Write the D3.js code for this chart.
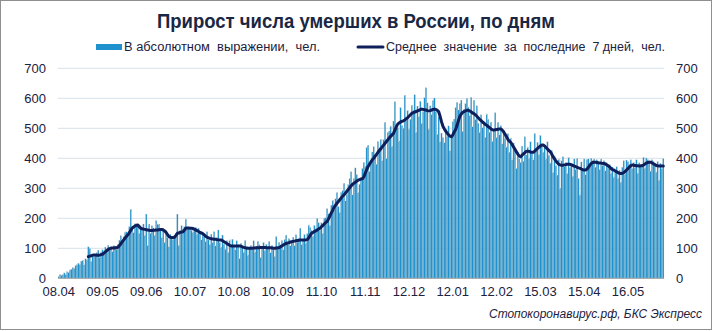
<!DOCTYPE html>
<html>
<head>
<meta charset="utf-8">
<script src="https://cdn.jsdelivr.net/npm/d3@7/dist/d3.min.js"></script>
<style>
  html, body { margin: 0; padding: 0; background: #ffffff; }
  svg { display: block; }
</style>
</head>
<body>
<svg id="chart" width="713" height="331"></svg>
<script>
// Daily increase in COVID-19 deaths in Russia, from 08.04.2020, one value per day
const daily = [
  6, 13, 10, 12, 18, 13, 22, 19, 28, 30, 36, 33, 42, 45, 50, 46, 57, 61, 45, 65, 62,
  105, 100, 56, 78, 73, 76, 86, 94, 70, 88, 95, 82, 104, 93, 110, 97, 105, 89, 110, 106,
  96, 113, 127, 142, 128, 140, 153, 155, 140, 172, 231, 165, 152, 182, 174, 181, 150, 175, 165, 181,
  143,
  214, 111, 181, 150, 175, 168, 144, 192, 180, 181, 160, 135, 165, 120, 158, 135, 105, 147, 136, 130,
  141, 150, 214, 110, 160, 175, 152, 172, 198, 171, 170, 166, 160, 154, 165, 170, 148, 167, 155, 128,
  150, 140, 124, 155, 128, 112, 147, 120, 155, 108, 137, 161, 120, 104, 144, 114, 97, 126, 86, 128,
  109,
  130, 110, 95, 125, 113, 66, 117, 105, 88, 126, 101, 78, 104, 110, 96, 125, 88, 107, 124, 112,
  70, 106, 119, 92, 113, 100, 123, 85, 110, 96, 73, 139, 99, 120, 112, 126, 95, 130, 144, 115,
  132, 108, 127, 137, 109, 145, 120, 133, 167, 112, 130, 146, 118, 149, 178, 170, 160, 140, 176, 165,
  200, 185, 160,
  185, 150, 200, 202, 232, 215, 176, 244, 260, 229, 265, 286, 239, 220, 286, 293, 317, 258, 279, 312,
  334, 355, 278, 333, 368, 346, 286, 313, 334, 366, 387, 374, 437, 444, 356, 386, 421, 439, 411, 380,
  456, 435, 464, 392, 463, 520, 399, 486, 491, 508, 440, 524, 589, 510, 502, 458, 569, 510, 500, 611,
  527,
  560, 498, 530, 577, 560, 612, 487, 574, 539, 590, 517, 556, 602, 635, 585, 498, 575, 546, 593, 601,
  557, 480, 539, 455, 484, 469, 452, 498, 474, 508, 425, 472, 522, 531, 570, 587, 561, 583, 594, 490,
  563, 582, 600, 570, 542, 603, 505, 594, 529, 575, 517, 488, 545, 502, 522, 470, 548, 530, 487, 521,
  456, 497,
  552, 470, 520, 478, 509, 448, 494, 467, 437, 482, 420, 468, 395, 451, 432, 366, 420, 398, 388, 441,
  390, 472, 411, 438, 400, 455, 419, 395, 483, 430, 453, 412, 476, 446, 420, 437, 398, 455, 411, 384,
  426, 353, 408, 376, 344, 397, 300, 392, 405, 372, 387, 349, 403, 370, 383, 341, 398, 362, 400, 333,
  278,
  388, 365, 398, 345, 396, 398, 380, 400, 392, 398, 370, 395, 388, 362, 398, 376, 392, 358, 385, 367,
  380, 350, 371, 338, 355, 372, 334, 360, 321, 370, 392, 348, 394, 389, 380, 395, 366, 387, 370, 395,
  351, 385, 373, 380, 403, 368, 401, 396, 392, 357, 395, 389, 380, 354, 390, 327, 383, 366, 399
];

// 7-day average, published from the 22nd day of the series onwards
const avgOffset = 21;
const avg7 = [
  72, 74, 75, 77, 78, 78, 77, 77, 77, 79, 80, 84, 88, 92, 96, 99, 100, 101, 101, 102,
  102, 104, 109, 115, 122, 128, 134, 140, 145, 152, 160, 167, 171, 174, 177, 178, 172, 167, 165, 164,
  163,
  162, 161, 160, 159, 159, 160, 160, 161, 161, 162, 163, 163, 161, 158, 153, 146, 139, 137, 136, 136,
  137, 143, 150, 151, 153, 154, 155, 161, 167, 168, 168, 167, 167, 166, 164, 161, 159, 156, 153, 151,
  149, 145, 140, 137, 135, 133, 132, 131, 130, 130, 129, 128, 128, 128, 125, 122, 119, 116, 113, 110,
  108,
  108, 108, 108, 108, 108, 108, 107, 105, 103, 102, 101, 100, 100, 100, 100, 101, 101, 102, 102, 102,
  103, 103, 103, 103, 102, 102, 102, 102, 101, 100, 100, 101, 102, 102, 105, 108, 111, 114, 116, 118,
  119, 121, 122, 123, 124, 125, 126, 127, 128, 128, 128, 128, 128, 129, 135, 143, 150, 153, 156, 158,
  161, 164, 167,
  172, 176, 181, 186, 189, 198, 208, 218, 227, 237, 244, 250, 256, 262, 268, 274, 278, 284, 290, 296,
  302, 308, 313, 317, 320, 324, 327, 329, 331, 332, 338, 350, 362, 372, 380, 388, 395, 400, 407, 413,
  420, 426, 432, 438, 444, 450, 456, 462, 468, 473, 478, 483, 494, 505, 514, 518, 521, 523, 525, 528,
  532,
  535, 540, 545, 550, 552, 554, 556, 558, 560, 562, 564, 563, 562, 561, 559, 558, 559, 561, 563, 564,
  563, 560, 555, 540, 522, 507, 498, 490, 484, 478, 474, 472, 478, 488, 496, 510, 526, 540, 548, 553,
  556, 558, 560, 560, 558, 555, 551, 549, 545, 540, 535, 530, 526, 521, 517, 513, 510, 506, 502, 498,
  495, 494,
  495, 496, 497, 498, 498, 494, 488, 480, 472, 463, 457, 453, 446, 438, 430, 422, 414, 408, 405, 410,
  415, 419, 423, 424, 423, 421, 420, 420, 424, 429, 433, 437, 441, 444, 444, 441, 436, 431, 426, 422,
  414, 405, 398, 391, 385, 380, 378, 377, 377, 378, 379, 380, 380, 380, 378, 376, 374, 372, 370, 368,
  367,
  364, 362, 361, 361, 364, 370, 377, 383, 386, 387, 387, 386, 385, 384, 384, 383, 383, 381, 378, 375,
  371, 366, 362, 361, 358, 355, 352, 350, 349, 350, 352, 356, 361, 366, 371, 375, 378, 377, 376, 375,
  375, 374, 375, 375, 378, 381, 384, 386, 387, 387, 385, 382, 379, 376, 375, 374, 374, 374, 374
];

// Date labels along the x axis, one every 31 days
const labelStep = 31;
const xTickLabels = ["08.04", "09.05", "09.06", "10.07", "10.08", "10.09", "11.10",
                     "11.11", "12.12", "12.01", "12.02", "15.03", "15.04", "16.05"];
const yTicks = [0, 100, 200, 300, 400, 500, 600, 700];

const titleText = "Прирост числа умерших в России, по дням";
const legendBars = "В абсолютном  выражении,  чел.";
const legendLine = "Среднее  значение  за  последние  7 дней,  чел.";
const sourceText = "Стопокоронавирус.рф, БКС Экспресс";

// ---- layout ----
const W = 713, H = 331;
const plot = { left: 58, right: 664, top: 68.3, bottom: 278.3 };
const barColor = "#1f91cc";
const lineColor = "#0e1f5b";
const textColor = "#1b2140";
const narrow = "'Liberation Sans Narrow', 'Arial Narrow', 'Liberation Sans', Arial, sans-serif";
const regular = "'Liberation Sans', Arial, sans-serif";

const svg = d3.select("#chart");

// outer frame
svg.append("rect")
  .attr("x", 0.5).attr("y", 0.5)
  .attr("width", W - 2).attr("height", H - 2)
  .attr("fill", "#ffffff")
  .attr("stroke", "#8f8f8f").attr("stroke-width", 1);

const N = daily.length;
const x = d3.scaleBand().domain(d3.range(N)).range([plot.left, plot.right]).padding(0);
const bw = x.bandwidth();
const y = d3.scaleLinear().domain([0, 700]).range([plot.bottom, plot.top]);

// horizontal gridlines
svg.append("g")
  .selectAll("line")
  .data(yTicks.filter(d => d > 0))
  .join("line")
  .attr("x1", plot.left).attr("x2", plot.right)
  .attr("y1", d => y(d)).attr("y2", d => y(d))
  .attr("stroke", "#d8e1ea").attr("stroke-width", 1);

// daily bars, with a faint grey edge between neighbours
svg.append("g")
  .selectAll("rect")
  .data(daily)
  .join("rect")
  .attr("x", (d, i) => x(i))
  .attr("width", bw)
  .attr("y", d => y(d))
  .attr("height", d => y(0) - y(d))
  .attr("fill", barColor)
  .attr("stroke", "#cfcfcf")
  .attr("stroke-width", 0.22);

// baseline
svg.append("line")
  .attr("x1", plot.left).attr("x2", plot.right)
  .attr("y1", y(0)).attr("y2", y(0))
  .attr("stroke", "#a3a3a3").attr("stroke-width", 1);

// 7-day average line
const line = d3.line()
  .x((d, j) => x(j + avgOffset) + bw / 2)
  .y(d => y(d));
svg.append("path")
  .datum(avg7)
  .attr("d", line)
  .attr("fill", "none")
  .attr("stroke", lineColor)
  .attr("stroke-width", 3)
  .attr("stroke-linejoin", "round")
  .attr("stroke-linecap", "round");

// axes
function styleAxis(g) {
  g.select(".domain").remove();
  g.selectAll("text")
    .attr("fill", textColor)
    .style("font-family", regular)
    .style("font-size", "13px");
}

svg.append("g")
  .attr("transform", `translate(0,${plot.bottom})`)
  .call(d3.axisBottom(x)
    .tickValues(xTickLabels.map((_, k) => k * labelStep))
    .tickFormat((d, k) => xTickLabels[k])
    .tickSize(0).tickPadding(8))
  .call(styleAxis);

svg.append("g")
  .attr("transform", `translate(${plot.left},0)`)
  .call(d3.axisLeft(y).tickValues(yTicks).tickSize(0).tickPadding(12))
  .call(styleAxis);

svg.append("g")
  .attr("transform", `translate(${plot.right},0)`)
  .call(d3.axisRight(y).tickValues(yTicks).tickSize(0).tickPadding(12))
  .call(styleAxis);

// title
svg.append("text")
  .attr("x", 157).attr("y", 28)
  .attr("textLength", 398).attr("lengthAdjust", "spacingAndGlyphs")
  .style("font-family", narrow).style("font-size", "21px").style("font-weight", "bold")
  .attr("fill", "#1a2744")
  .text(titleText);

// legend
const lg = svg.append("g");
lg.append("rect")
  .attr("x", 96).attr("y", 44).attr("width", 26).attr("height", 6)
  .attr("fill", barColor);
lg.append("text")
  .attr("x", 124).attr("y", 51)
  .attr("textLength", 196).attr("lengthAdjust", "spacingAndGlyphs")
  .style("font-family", narrow).style("font-size", "12.5px")
  .attr("fill", textColor).attr("xml:space", "preserve")
  .text(legendBars);
lg.append("line")
  .attr("x1", 358).attr("x2", 383).attr("y1", 47).attr("y2", 47)
  .attr("stroke", lineColor).attr("stroke-width", 3).attr("stroke-linecap", "round");
lg.append("text")
  .attr("x", 386).attr("y", 51)
  .attr("textLength", 279).attr("lengthAdjust", "spacingAndGlyphs")
  .style("font-family", narrow).style("font-size", "12.5px")
  .attr("fill", textColor).attr("xml:space", "preserve")
  .text(legendLine);

// source
svg.append("text")
  .attr("x", 702).attr("y", 318)
  .attr("text-anchor", "end")
  .attr("textLength", 213).attr("lengthAdjust", "spacingAndGlyphs")
  .style("font-family", narrow).style("font-size", "12.5px").style("font-style", "italic")
  .attr("fill", textColor)
  .text(sourceText);
</script>
</body>
</html>
